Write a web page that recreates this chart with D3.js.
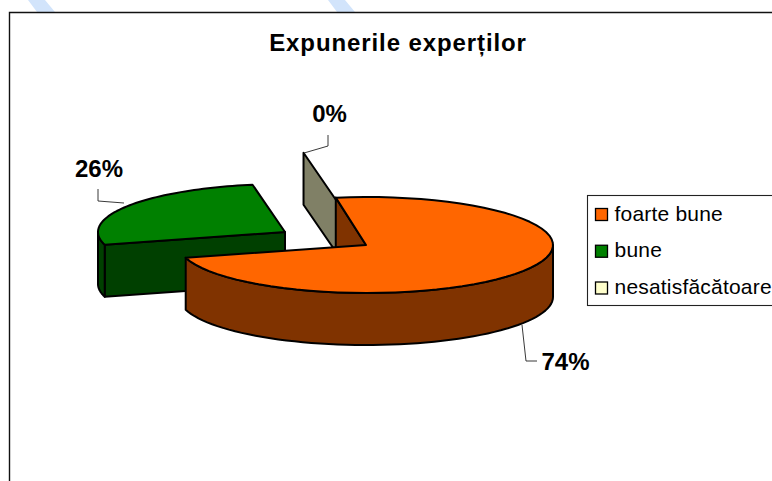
<!DOCTYPE html>
<html><head><meta charset="utf-8">
<script src="https://cdn.jsdelivr.net/npm/d3@7"></script>
<style>html,body{margin:0;padding:0;background:#fff;overflow:hidden}svg{display:block}text{font-family:"Liberation Sans",Arial,sans-serif;fill:#000}</style>
</head><body>
<svg id="c" width="772" height="481"></svg>
<script>
const titleText = "Expunerile experților";
const categories = ["foarte bune", "bune", "nesatisfăcătoare"];
const values = [74, 26, 0];
const topColors = ["#ff6600", "#008000", "#ffffcc"];
const wallColors = ["#803300", "#004000", "#808066"];
const labels = ["74%", "26%", "0%"];

const svg = d3.select("#c");
const RX = 187, RY = 48, DEPTH = 52;
const centers = [[366, 245], [285, 232], [336, 200]];
const deg = Math.PI / 180;
const startAngle = -11 * deg;
const pie = d3.pie().sort(null).value(d => d).startAngle(startAngle).endAngle(startAngle + 2 * Math.PI);
const arcs = pie(values);
// perspective correction of the tilted pie: small shift from true angle to drawn angle
const view = d3.scaleLinear().domain([-11 * deg, 255.4 * deg, 349 * deg]).range([-9.3 * deg, 254.6 * deg, 350 * deg]);

// backdrop streaks and frame
[28, 328].forEach(a => {
  svg.append("path").attr("d", `M${a},0H${a + 17}L${a + 27},12H${a + 9}Z`).attr("fill", "#d2e4fb");
});
svg.append("path").attr("d", "M9.5,481V12.5H772").attr("fill", "none").attr("stroke", "#111").attr("stroke-width", 1.4);

const pt = (c, a, dz = 0) => [c[0] + RX * Math.sin(a), c[1] - RY * Math.cos(a) + dz];
const line = d3.line();
const sweep = (a0, a1) => d3.range(0, 61).map(i => a0 + (a1 - a0) * i / 60);
const draw = (points, fill) => svg.append("path").attr("d", line(points) + "Z").attr("fill", fill)
  .attr("stroke", "#000").attr("stroke-width", 2).attr("stroke-linejoin", "round");

// gray zero slice
{
  const c = centers[2], a = view(arcs[2].startAngle);
  draw([c, pt(c, a), pt(c, a, DEPTH), [c[0], c[1] + DEPTH]], wallColors[2]);
}
// green slice
{
  const c = centers[1], s = arcs[1];
  const a0 = view(s.startAngle), a1 = view(s.endAngle), side = 1.5 * Math.PI;
  const rim = sweep(a0, side);
  draw([[c[0], c[1]], [c[0], c[1] + DEPTH], pt(c, a0, DEPTH), pt(c, a0)], wallColors[1]);
  draw([...rim.map(a => pt(c, a)), ...rim.slice().reverse().map(a => pt(c, a, DEPTH))], wallColors[1]);
  draw([c, ...sweep(a0, a1).map(a => pt(c, a))], topColors[1]);
}
// orange slice
{
  const c = centers[0], s = arcs[0];
  const a0 = view(s.startAngle), a1 = view(s.endAngle);
  draw([c, pt(c, a0), pt(c, a0, DEPTH), [c[0], c[1] + DEPTH]], wallColors[0]);
  const rim = sweep(Math.PI / 2, a1);
  draw([...rim.map(a => pt(c, a)), ...rim.slice().reverse().map(a => pt(c, a, DEPTH))], wallColors[0]);
  draw([c, ...sweep(a0, a1).map(a => pt(c, a))], topColors[0]);
}

// leaders
[[[522, 325], [526, 361], [537, 361]], [[124, 203], [98, 201], [98, 189]], [[304, 153], [328, 146], [328, 135]]]
  .forEach(p => svg.append("path").attr("d", d3.line()(p)).attr("fill", "none").attr("stroke", "#222").attr("stroke-width", 0.9));

// labels
const labelPos = [[565.5, 370], [99, 177], [329.5, 122]];
svg.selectAll("text.dl").data(labels).join("text").attr("class", "dl")
  .attr("x", (d, i) => labelPos[i][0]).attr("y", (d, i) => labelPos[i][1])
  .attr("text-anchor", "middle").attr("font-size", 24).attr("font-weight", 700).text(d => d);

svg.append("text").attr("x", 398).attr("y", 51).attr("text-anchor", "middle")
  .attr("font-size", 24).attr("font-weight", 700).attr("letter-spacing", 0.9).text(titleText);

// legend
svg.append("rect").attr("x", 587.5).attr("y", 195.5).attr("width", 200).attr("height", 110)
  .attr("fill", "#fff").attr("stroke", "#222").attr("stroke-width", 1.1);
const ly = d3.scalePoint().domain(categories).range([214.5, 288]);
categories.forEach((c, i) => {
  svg.append("rect").attr("x", 595.5).attr("y", ly(c) - 6).attr("width", 12).attr("height", 12)
    .attr("fill", topColors[i]).attr("stroke", "#000").attr("stroke-width", 1.3);
  svg.append("text").attr("x", 614.5).attr("y", ly(c) + 6).attr("font-size", 21).attr("letter-spacing", 0.2).text(c);
});
</script>
</body></html>
